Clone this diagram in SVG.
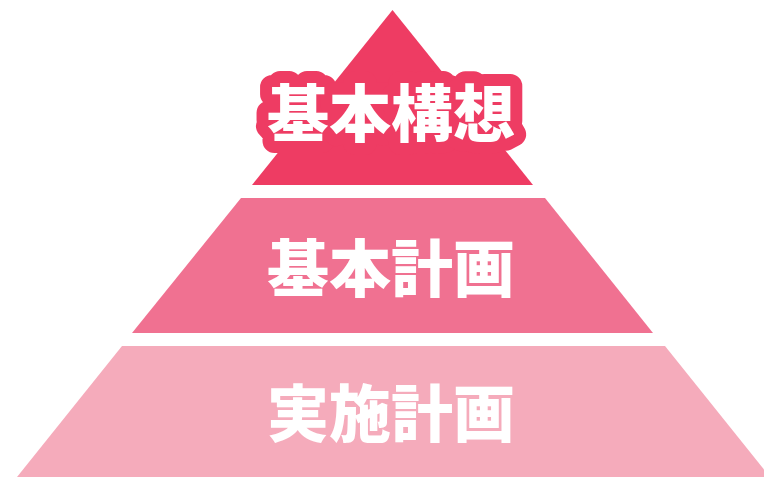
<svg xmlns="http://www.w3.org/2000/svg" width="764" height="477" viewBox="0 0 764 477">
<style>
.lbl{font-family:"Noto Sans CJK JP","Noto Sans CJK SC",sans-serif;font-weight:900;font-size:62px;fill:#ffffff;text-anchor:middle}
.halo{stroke:#ee3c63;stroke-width:24px;stroke-linejoin:round;paint-order:stroke fill}
</style>
<rect width="764" height="477" fill="#ffffff"/>
<g id="tier-bottom">
<polygon points="122,346 665,346 770,477 17,477" fill="#f5abbb"/>
<text class="lbl" x="391" y="437">実施計画</text>
</g>
<g id="tier-middle">
<polygon points="241,198 545,198 653,333 132,333" fill="#f07191"/>
<text class="lbl" x="391" y="292">基本計画</text>
</g>
<g id="tier-top">
<polygon points="392.5,10 533,185 252,185" fill="#ee3c63"/>
<text class="lbl halo" x="391" y="137">基本構想</text>
</g>
<g id="connectors"/>
</svg>
